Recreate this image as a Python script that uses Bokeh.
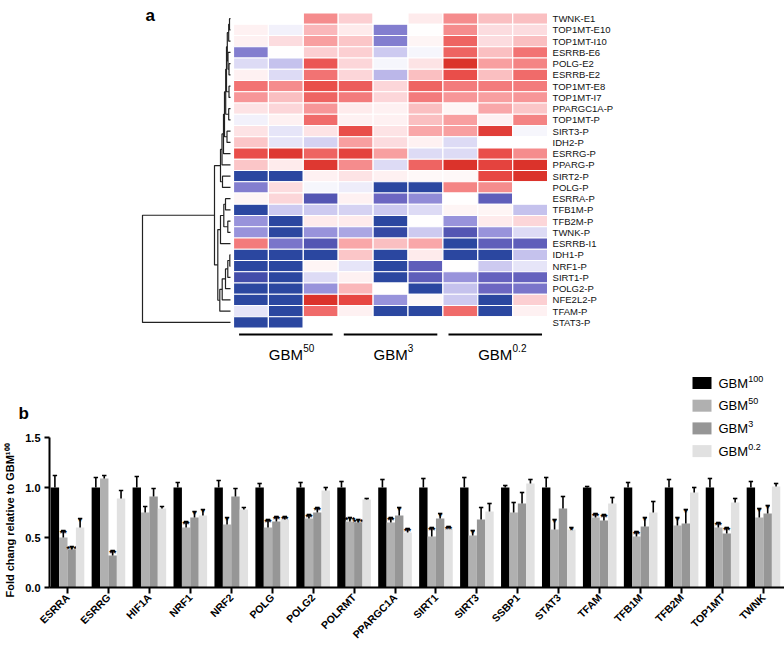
import math
import numpy as np
from bokeh.plotting import figure
from bokeh.models import (Range1d, LinearColorMapper, ColumnDataSource, Label,
                          FixedTicker, NumeralTickFormatter, CustomJSTickFormatter)
from bokeh.core.properties import value
from bokeh.embed import file_html
from bokeh.resources import INLINE

FONT = "Liberation Sans"
nan = float("nan")

# ---------------- panel a data ----------------
row_labels = ["TWNK-E1", "TOP1MT-E10", "TOP1MT-I10", "ESRRB-E6", "POLG-E2", "ESRRB-E2",
              "TOP1MT-E8", "TOP1MT-I7", "PPARGC1A-P", "TOP1MT-P", "SIRT3-P", "IDH2-P",
              "ESRRG-P", "PPARG-P", "SIRT2-P", "POLG-P", "ESRRA-P", "TFB1M-P", "TFB2M-P",
              "TWNK-P", "ESRRB-I1", "IDH1-P", "NRF1-P", "SIRT1-P", "POLG2-P", "NFE2L2-P",
              "TFAM-P", "STAT3-P"]
group_names = ["GBM", "GBM", "GBM"]
group_sups = ["50", "3", "0.2"]

# heatmap columns (GBM50 x3, GBM3 x3, GBM0.2 x3), one value per row
hm_c1 = [nan, 0.2, 0.2, -1.5, -0.4, 0.2, 1.8, 1.4, 0.4, -0.15, 0.4, 0.8, 2.3, 0.8,
         -3, -1.5, 0.15, -3, -1.2, -1.2, 1.7, -3, -3, -2.5, -3, -3, -0.3, -3]
hm_c2 = [nan, -0.15, 0.5, 0.0, -0.7, -0.4, 1.5, 0.9, 0.6, 0.2, -0.3, -0.3, 2.7, 0.3,
         -3, 0.5, 0.6, -0.6, -3, -3, -1.6, -3, -3, -3, -3, -3, -3, -3]
hm_c3 = [1.5, 1.0, 1.3, 0.7, 2.2, 1.8, 2.3, 2.0, 1.4, 1.9, 0.4, -0.5, 2.0, 2.7,
         0.2, -0.1, -2.2, -0.6, 0.3, -1.2, -2.2, -3, 0.15, -0.4, -1.2, 2.8, 1.9, nan]
hm_c4 = [0.7, 0.3, 0.8, 0.7, 0.6, 0.6, 2.1, 1.7, 0.3, 0.2, 2.3, 1.3, 2.5, 1.5,
         0.4, -0.2, 0.2, -0.5, 0.3, -1.0, 1.2, 0.8, -0.3, 0.2, 1.0, 2.4, 0.2, nan]
hm_c5 = [nan, -1.5, -1.5, -0.6, -0.1, -0.8, 0.6, 0.6, 0.2, 0.2, 0.4, 0.5, 1.3, -0.4,
         0.2, -3, -1.8, -0.6, -3, -2.8, 0.9, -3, -3, -3, 0.0, -1.2, -3, nan]
hm_c6 = [0.3, 0.0, 0.15, -0.1, 0.4, 0.9, 2.0, 1.7, 0.9, 0.9, 1.2, 0.2, -0.4, 2.0,
         0.1, -3, -1.3, -0.4, 0.0, -0.6, 1.2, 0.3, -2.0, -2.0, -3, 0.1, -3, nan]
hm_c7 = [1.5, 1.5, 2.0, 2.0, 2.8, 2.3, 1.7, 1.4, 0.15, 1.3, 1.3, -0.4, -0.4, 2.8,
         0.1, 1.6, 0.0, 0.15, -1.2, -2.2, -3, -3, 0.0, -1.2, -0.7, -0.6, 1.9, nan]
hm_c8 = [0.9, 0.5, 0.5, 0.9, 1.3, 0.9, 1.7, 1.3, 1.2, 0.2, 2.6, nan, 2.3, 2.5,
         2.4, 1.5, -2.0, 0.15, 0.3, -1.2, -2.0, -3, -0.6, -1.9, -1.8, -3, -3, nan]
hm_c9 = [0.9, 0.5, 0.9, 1.8, 1.6, 1.9, 1.7, 1.4, 0.8, 1.6, -0.1, nan, 1.5, 2.8,
         2.8, nan, nan, -0.7, 0.6, -0.4, -2.0, -0.7, -0.3, -1.9, -1.6, 0.7, 0.2, nan]

# dendrogram merges: (child_a, child_b, height); leaves 0..27, merge k gets id 28+k
dendro_merges = [
    (0, 1, 1.0), (28, 2, 1.8), (4, 5, 1.5), (3, 30, 2.5), (29, 31, 3.2), (6, 7, 1.5),
    (32, 33, 4.0), (8, 9, 1.8), (34, 35, 4.8), (10, 11, 3.5), (36, 37, 6.0), (38, 12, 7.0),
    (39, 13, 8.5), (14, 15, 8.0), (40, 41, 10.0),
    (16, 17, 5.0), (18, 19, 2.7), (43, 44, 6.7), (45, 20, 10.0), (21, 22, 0.7),
    (47, 23, 2.7), (48, 24, 5.0), (49, 25, 8.3), (50, 26, 10.7), (46, 51, 12.7),
    (42, 52, 16.0), (53, 27, 88.0),
]

# ---------------- panel b data ----------------
genes = ["ESRRA", "ESRRG", "HIF1A", "NRF1", "NRF2", "POLG", "POLG2", "POLRMT", "PPARGC1A",
         "SIRT1", "SIRT3", "SSBP1", "STAT3", "TFAM", "TFB1M", "TFB2M", "TOP1MT", "TWNK"]
gbm100 = [1.00, 1.00, 1.00, 1.00, 1.00, 1.00, 1.00, 1.00, 1.00,
          1.00, 1.00, 1.00, 1.00, 1.00, 1.00, 1.00, 1.00, 1.00]
gbm100_err = [0.12, 0.10, 0.11, 0.05, 0.07, 0.04, 0.05, 0.06, 0.08,
              0.09, 0.10, 0.02, 0.10, 0.01, 0.05, 0.08, 0.09, 0.06]
gbm50 = [0.50, 1.09, 0.75, 0.60, 0.63, 0.60, 0.69, 0.66, 0.65,
         0.51, 0.52, 0.75, 0.58, 0.70, 0.51, 0.62, 0.60, 0.70]
gbm50_err = [0.07, 0.03, 0.06, 0.06, 0.07, 0.08, 0.04, 0.04, 0.05,
             0.09, 0.05, 0.10, 0.10, 0.04, 0.05, 0.08, 0.05, 0.09]
gbm3 = [0.38, 0.32, 0.91, 0.70, 0.91, 0.66, 0.75, 0.65, 0.72,
        0.69, 0.68, 0.84, 0.79, 0.67, 0.61, 0.64, 0.54, 0.74]
gbm3_err = [0.03, 0.05, 0.08, 0.06, 0.08, 0.05, 0.05, 0.03, 0.08,
            0.05, 0.12, 0.11, 0.12, 0.06, 0.09, 0.14, 0.06, 0.08]
gbm02 = [0.60, 0.89, 0.79, 0.72, 0.78, 0.68, 0.97, 0.88, 0.55,
         0.59, 0.76, 1.04, 0.58, 0.84, 0.75, 0.95, 0.85, 1.01]
gbm02_err = [0.09, 0.08, 0.02, 0.06, 0.02, 0.03, 0.03, 0.01, 0.04,
             0.02, 0.08, 0.04, 0.02, 0.06, 0.11, 0.05, 0.04, 0.03]
sig100 = ["", "", "", "", "", "", "", "", "", "", "", "", "", "", "", "", "", ""]
sig50 = ["**", "", "", "**", "*", "**", "**", "***", "**", "**", "*", "", "*", "**", "**", "*", "**", "*"]
sig3 = ["***", "**", "", "*", "", "**", "**", "***", "*", "*", "", "", "", "**", "*", "*", "**", "*"]
sig02 = ["*", "", "", "*", "", "**", "", "", "**", "**", "", "", "*", "", "", "", "", ""]
series_names = ["100", "50", "3", "0.2"]
series_colors = ["#000000", "#B0B0B0", "#969696", "#E1E1E1"]

# ---------------- colour palette (styling) ----------------
anchors = [(-3.0, (43, 71, 160)), (-2.4, (72, 78, 172)), (-1.8, (108, 103, 194)),
           (-1.2, (153, 148, 220)), (-0.6, (205, 202, 240)), (0.0, (255, 255, 255)),
           (0.6, (252, 214, 217)), (1.2, (249, 168, 170)), (1.8, (242, 115, 115)),
           (2.4, (231, 72, 68)), (3.0, (214, 42, 32))]
palette = []
for t in np.linspace(-3, 3, 256):
    for (v0, c0), (v1, c1) in zip(anchors[:-1], anchors[1:]):
        if v0 <= t <= v1:
            f = (t - v0) / (v1 - v0)
            rgb = [int(round(a + (b - a) * f)) for a, b in zip(c0, c1)]
            palette.append("#%02x%02x%02x" % tuple(rgb))
            break
mapper = LinearColorMapper(palette=palette, low=-3, high=3, nan_color="white")

# ---------------- layout constants (page pixels) ----------------
W, H = 784, 651
AX_LEFT_PX = 49       # y axis of panel b
Y0_PX = 587           # value 0 of panel b
GW = 40.94            # px per gene
FIRST_TICK_PX = 67
PX_PER_UNIT = 100.0
COLW = 34.9           # heatmap px per column
ROWH = 11.25          # heatmap px per row
HM_LEFT = 233.0
HM_TOP = 12.5


def px_to_col(px):
    return (px - HM_LEFT) / COLW - 0.5


def py_to_row(py):
    return (py - HM_TOP) / ROWH - 0.5


def px_to_gene(px):
    return (px - FIRST_TICK_PX) / GW


def py_to_val(py):
    return (Y0_PX - py) / PX_PER_UNIT


p = figure(width=W, height=H, output_backend="svg", toolbar_location=None,
           x_range=Range1d(px_to_gene(0), px_to_gene(W)),
           y_range=Range1d(py_to_val(H), py_to_val(0)),
           min_border=0)
p.extra_x_ranges = {"hx": Range1d(px_to_col(0), px_to_col(W))}
p.extra_y_ranges = {"hy": Range1d(py_to_row(H), py_to_row(0))}
p.grid.visible = False
p.outline_line_color = None

# ---------------- panel a ----------------
cols = [hm_c1, hm_c2, hm_c3, hm_c4, hm_c5, hm_c6, hm_c7, hm_c8, hm_c9]
hx, hy, hv = [], [], []
for ci, cv in enumerate(cols):
    for ri, v in enumerate(cv):
        hx.append(ci)
        hy.append(ri)
        hv.append(v)
hsrc = ColumnDataSource(dict(x=hx, y=hy, v=np.array(hv, dtype=float)))
p.rect(x="x", y="y", width=1, height=1, source=hsrc, x_range_name="hx", y_range_name="hy",
       fill_color={"field": "v", "transform": mapper}, line_color="white", line_width=1.2)

n_rows = len(row_labels)
n_cols = len(cols)
p.text(x=[n_cols - 0.5] * n_rows, y=list(range(n_rows)), text=row_labels, x_offset=5,
       x_range_name="hx", y_range_name="hy",
       text_baseline="middle", text_align="left", text_font=value(FONT),
       text_font_size="9.5px", text_color="#111111")

# dendrogram
LEAF_X = px_to_col(230)
ROOT_X = px_to_col(142)
root_h = max(m[2] for m in dendro_merges)
scale = (LEAF_X - ROOT_X) / root_h
node_y = {i: float(i) for i in range(n_rows)}
node_h = {i: 0.0 for i in range(n_rows)}
dxs, dys = [], []
for k, (a, b, h) in enumerate(dendro_merges):
    nid = n_rows + k
    xa = LEAF_X - node_h[a] * scale
    xb = LEAF_X - node_h[b] * scale
    xn = LEAF_X - h * scale
    dxs.append([xa, xn, xn, xb])
    dys.append([node_y[a], node_y[a], node_y[b], node_y[b]])
    node_y[nid] = (node_y[a] + node_y[b]) / 2
    node_h[nid] = h
p.multi_line(xs=dxs, ys=dys, x_range_name="hx", y_range_name="hy",
             line_color="#222222", line_width=1.2)

# group bars and labels
reps = 3
gcenters = [g * reps + (reps - 1) / 2 for g in range(len(group_names))]
line_y = py_to_row(334)
p.segment(x0=[c - 1.34 for c in gcenters], x1=[c + 1.34 for c in gcenters],
          y0=[line_y] * 3, y1=[line_y] * 3, x_range_name="hx", y_range_name="hy",
          line_color="black", line_width=2)
lab_y = py_to_row(353.5)
p.text(x=gcenters, y=[lab_y] * 3, text=group_names, text_align="center",
       x_range_name="hx", y_range_name="hy",
       text_baseline="alphabetic", text_font=value(FONT), text_font_size="15px",
       text_color="black")
p.text(x=gcenters, y=[lab_y] * 3, text=group_sups, text_align="left", x_offset=17.3,
       y_offset=-6, x_range_name="hx", y_range_name="hy", text_baseline="alphabetic",
       text_font=value(FONT), text_font_size="10px", text_color="black")

p.add_layout(Label(x=145, y=H - 15, x_units="screen", y_units="screen",
                   text="a", text_font=FONT, text_font_style="bold", text_font_size="17px",
                   text_color="black", text_baseline="alphabetic"))

# ---------------- panel b ----------------
bw = 8.4 / GW
offsets = [-1.5 * bw, -0.5 * bw, 0.5 * bw, 1.5 * bw]
gidx = np.arange(len(genes))
series = [(gbm100, gbm100_err, sig100), (gbm50, gbm50_err, sig50),
          (gbm3, gbm3_err, sig3), (gbm02, gbm02_err, sig02)]
cap = 2.2 / GW
for (vals, errs, sig), off, colr in zip(series, offsets, series_colors):
    xs = gidx + off
    vals = np.array(vals)
    tops = vals + np.array(errs)
    p.vbar(x=xs, top=vals, bottom=0, width=bw, fill_color=colr, line_color=None)
    p.segment(x0=xs, x1=xs, y0=vals, y1=tops, line_color="black", line_width=1.6)
    p.segment(x0=xs - cap, x1=xs + cap, y0=tops, y1=tops, line_color="black", line_width=1.6)
    p.text(x=xs, y=tops, text=sig, text_align="center", text_baseline="alphabetic",
           y_offset=2.5, text_font=value(FONT), text_font_style="bold",
           text_font_size="9px", text_color="black")

yax = p.yaxis[0]
yax.fixed_location = px_to_gene(AX_LEFT_PX)
yax.ticker = FixedTicker(ticks=[0, 0.5, 1.0, 1.5])
yax.formatter = NumeralTickFormatter(format="0.0")
yax.bounds = (0, 1.5)
yax.axis_line_width = 2
yax.axis_line_color = "black"
yax.major_tick_line_width = 2
yax.major_tick_line_color = "black"
yax.major_tick_out = 5
yax.major_tick_in = 0
yax.minor_tick_line_color = None
yax.major_label_text_font = FONT
yax.major_label_text_font_style = "bold"
yax.major_label_text_font_size = "11px"
yax.major_label_text_color = "black"
yax.major_label_standoff = 4

xax = p.xaxis[0]
xax.fixed_location = 0
xax.ticker = FixedTicker(ticks=list(range(len(genes))))
xax.formatter = CustomJSTickFormatter(args=dict(names=genes),
                                      code="return names[Math.round(tick)] || '';")
xax.bounds = (px_to_gene(AX_LEFT_PX), px_to_gene(W))
xax.axis_line_width = 2
xax.axis_line_color = "black"
xax.major_tick_line_width = 2
xax.major_tick_line_color = "black"
xax.major_tick_out = 6
xax.major_tick_in = 0
xax.minor_tick_line_color = None
xax.major_label_orientation = math.pi / 4
xax.major_label_text_font = FONT
xax.major_label_text_font_style = "bold"
xax.major_label_text_font_size = "10.5px"
xax.major_label_text_color = "black"
xax.major_label_standoff = 2

p.add_layout(Label(x=9, y=0.67, x_units="screen", y_units="data",
                   angle=math.pi / 2,
                   text="Fold chang relative to GBM\u00b9\u2070\u2070", text_align="center",
                   text_baseline="middle", text_font=FONT, text_font_style="bold",
                   text_color="black", text_font_size="11px"))
p.add_layout(Label(x=18, y=H - 413, x_units="screen", y_units="screen",
                   text="b", text_font=FONT, text_font_style="bold", text_color="black",
                   text_font_size="17px", text_baseline="alphabetic"))

# legend (manual, to get superscripts)
leg_sq_x = px_to_gene(701.5)
leg_tx_x = px_to_gene(718)
leg_y = [py_to_val(py) for py in (382.5, 405.2, 427.9, 450.6)]
p.rect(x=[leg_sq_x] * 4, y=leg_y, width=19, height=12, width_units="screen",
       height_units="screen", fill_color=series_colors, line_color=None)
p.text(x=[leg_tx_x] * 4, y=leg_y, text=["GBM"] * 4, text_align="left",
       text_baseline="middle", text_font=value(FONT), text_font_size="13px",
       text_color="black")
p.text(x=[leg_tx_x] * 4, y=leg_y, text=series_names, text_align="left",
       text_baseline="middle", x_offset=29.8, y_offset=-4.5, text_font=value(FONT),
       text_font_size="9px", text_color="black")

open("out.html", "w").write(file_html(p, INLINE))
